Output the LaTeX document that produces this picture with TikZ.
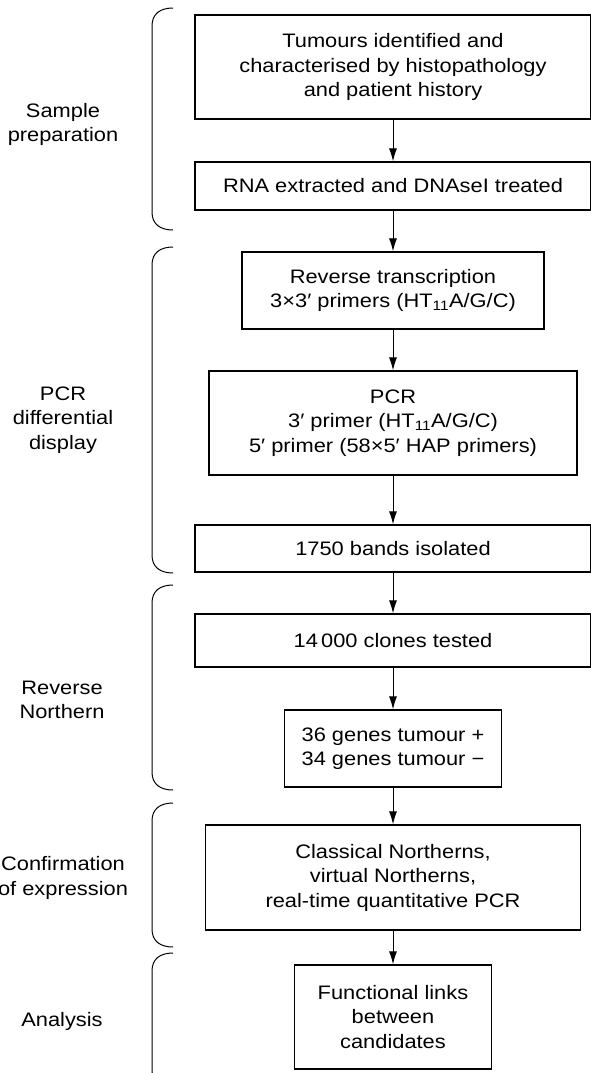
\documentclass[tikz,border=0pt]{standalone}
\usepackage{fontspec}
\setmainfont{Liberation Sans}[FakeStretch=1.12]
\usetikzlibrary{arrows.meta}
\tikzset{
  stagebox/.style={draw, line width=1.2pt, inner sep=0pt, align=center,
    font=\fontsize{19.5}{24.5}\selectfont},
  sidelabel/.style={inner sep=0pt, align=center,
    font=\fontsize{19.5}{24.5}\selectfont},
  flow/.style={line width=1pt, -{Latex[length=13pt,width=8pt]}},
  bracket/.style={line width=1pt}
}
\begin{document}
\begin{tikzpicture}[x=1pt,y=-1pt]
\useasboundingbox (0,0) rectangle (591,1073);
\clip (0,0) rectangle (591,1073);
% boxes
\node[stagebox, minimum width=396pt, minimum height=104pt] (tum) at (393,67)
  {Tumours identified and\\characterised by histopathology\\and patient history};
\node[stagebox, minimum width=396pt, minimum height=48pt] (rna) at (393,186)
  {RNA extracted and DNAseI treated};
\node[stagebox, minimum width=302pt, minimum height=77pt] (rt) at (393,290.5)
  {Reverse transcription\\3×3′ primers (HT\textsubscript{11}A/G/C)};
\node[stagebox, minimum width=368pt, minimum height=104pt] (pcr) at (393,423)
  {PCR\\3′ primer (HT\textsubscript{11}A/G/C)\\5′ primer (58×5′ HAP primers)};
\node[stagebox, minimum width=396pt, minimum height=47pt] (bands) at (393,548.5)
  {1750 bands isolated};
\node[stagebox, minimum width=396pt, minimum height=53pt] (clones) at (393,640.5)
  {14\,000 clones tested};
\node[stagebox, minimum width=217pt, minimum height=77pt] (genes) at (393,748.5)
  {36 genes tumour +\\34 genes tumour −};
\node[stagebox, minimum width=375pt, minimum height=105pt] (conf) at (393,877.5)
  {Classical Northerns,\\virtual Northerns,\\real-time quantitative PCR};
\node[stagebox, minimum width=197pt, minimum height=104pt] (func) at (393,1017)
  {Functional links\\between\\candidates};
% connectors
\draw[flow] (tum) -- (rna);
\draw[flow] (rna) -- (rt);
\draw[flow] (rt) -- (pcr);
\draw[flow] (pcr) -- (bands);
\draw[flow] (bands) -- (clones);
\draw[flow] (clones) -- (genes);
\draw[flow] (genes) -- (conf);
\draw[flow] (conf) -- (func);
% side labels
\node[sidelabel] (l1) at (63,124.5) {Sample\\preparation};
\node[sidelabel] (l2) at (63,420) {PCR\\differential\\display};
\node[sidelabel] (l3) at (62,700) {Reverse\\Northern};
\node[sidelabel] (l4) at (63,878) {Confirmation\\of expression};
\node[sidelabel] (l5) at (62,1021) {Analysis};
% brackets
\foreach \ya/\yb in {8/230, 247/573, 585/790, 803/947, 953/1088}{
  \draw[bracket] (173,\ya) .. controls (160,\ya) and (152,\ya+6) .. (152,\ya+18)
    -- (152,\yb-18) .. controls (152,\yb-6) and (160,\yb) .. (173,\yb);
}
\end{tikzpicture}
\end{document}
